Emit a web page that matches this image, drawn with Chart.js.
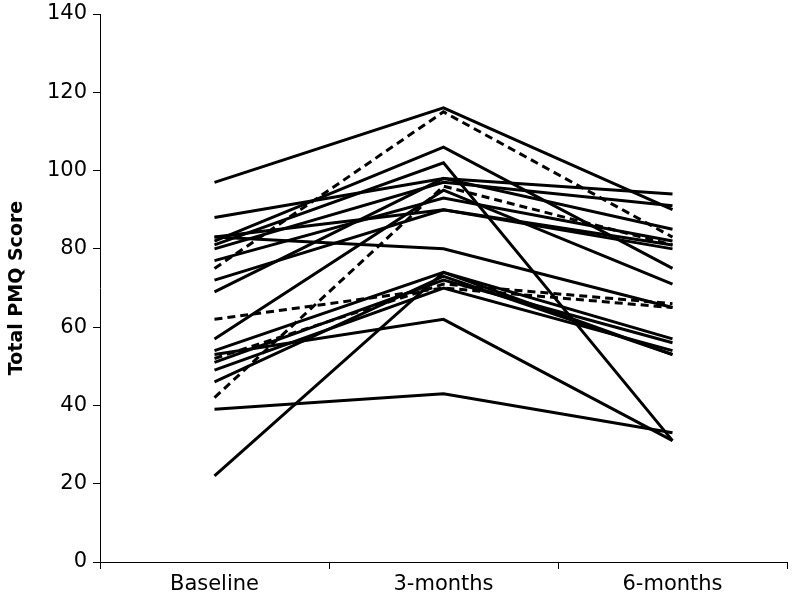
<!DOCTYPE html>
<html>
<head>
<meta charset="utf-8">
<script src="https://cdn.jsdelivr.net/npm/chart.js@4"></script>
<style>
    body { margin: 0; background: #ffffff; }
    #box { width: 792px; height: 602px; }
</style>
</head>
<body>
<div id="box"><canvas id="CHART_PMQ" width="792" height="602"></canvas></div>
<script>
const timePoints = ['Baseline', '3-months', '6-months'];
const yTicks = [0, 20, 40, 60, 80, 100, 120, 140];

// one array per participant: baseline, 3 months, 6 months
const solidLines = [
    [97, 116, 90],
    [88, 98, 94],
    [83, 80, 65],
    [82, 106, 75],
    [81, 102, 31],
    [80, 97, 91],
    [77, 93, 82],
    [72, 90, 80],
    [69, 98, 85],
    [57, 95, 71],
    [54, 74, 57],
    [51, 72, 56],
    [49, 70, 54],
    [46, 73, 53],
    [39, 43, 33],
    [22, 74, 53],
    [53, 62, 31],
    [83, 90, 81]
];
const dashedLines = [
    [75, 115, 83],
    [62, 70, 65],
    [42, 96, 81],
    [52, 71, 66]
];

let datasets = [];
for (let i = 0; i < solidLines.length; i++) {
    datasets.push({
        data: solidLines[i],
        borderColor: '#000000',
        borderWidth: 3,
        pointRadius: 0,
        fill: false
    });
}
for (let i = 0; i < dashedLines.length; i++) {
    datasets.push({
        data: dashedLines[i],
        borderColor: '#000000',
        borderWidth: 3,
        borderDash: [8, 5],
        pointRadius: 0,
        fill: false
    });
}

const tickFont = { family: 'DejaVu Sans', size: 21 };

let chart = new Chart(document.getElementById('CHART_PMQ').getContext('2d'), {
    type: 'line',
    data: { labels: timePoints, datasets: datasets },
    options: {
        responsive: false,
        animation: false,
        layout: { padding: { top: 14, right: 5, left: 0, bottom: 0 } },
        plugins: {
            legend: { display: false },
            tooltip: { enabled: false }
        },
        scales: {
            x: {
                offset: true,
                border: { color: '#000000', width: 1 },
                grid: {
                    offset: true,
                    drawOnChartArea: false,
                    tickLength: 7,
                    tickColor: '#000000'
                },
                ticks: { color: '#000000', font: tickFont, padding: 3 },
                afterFit: (scale) => { scale.height = 40; }
            },
            y: {
                min: 0,
                max: 140,
                afterBuildTicks: (scale) => { scale.ticks = yTicks.map(v => ({ value: v })); },
                border: { color: '#000000', width: 1 },
                grid: {
                    drawOnChartArea: false,
                    tickLength: 7,
                    tickColor: '#000000'
                },
                ticks: { color: '#000000', font: tickFont, padding: 6 },
                title: {
                    display: true,
                    text: 'Total PMQ Score',
                    color: '#000000',
                    font: { family: 'DejaVu Sans', size: 19, weight: 'bold' },
                    padding: { top: 6, bottom: 0 }
                },
                afterFit: (scale) => {
                    scale.width = 100;
                    scale.paddingTop = 0;
                    scale.paddingBottom = 0;
                }
            }
        }
    }
});
</script>
</body>
</html>
